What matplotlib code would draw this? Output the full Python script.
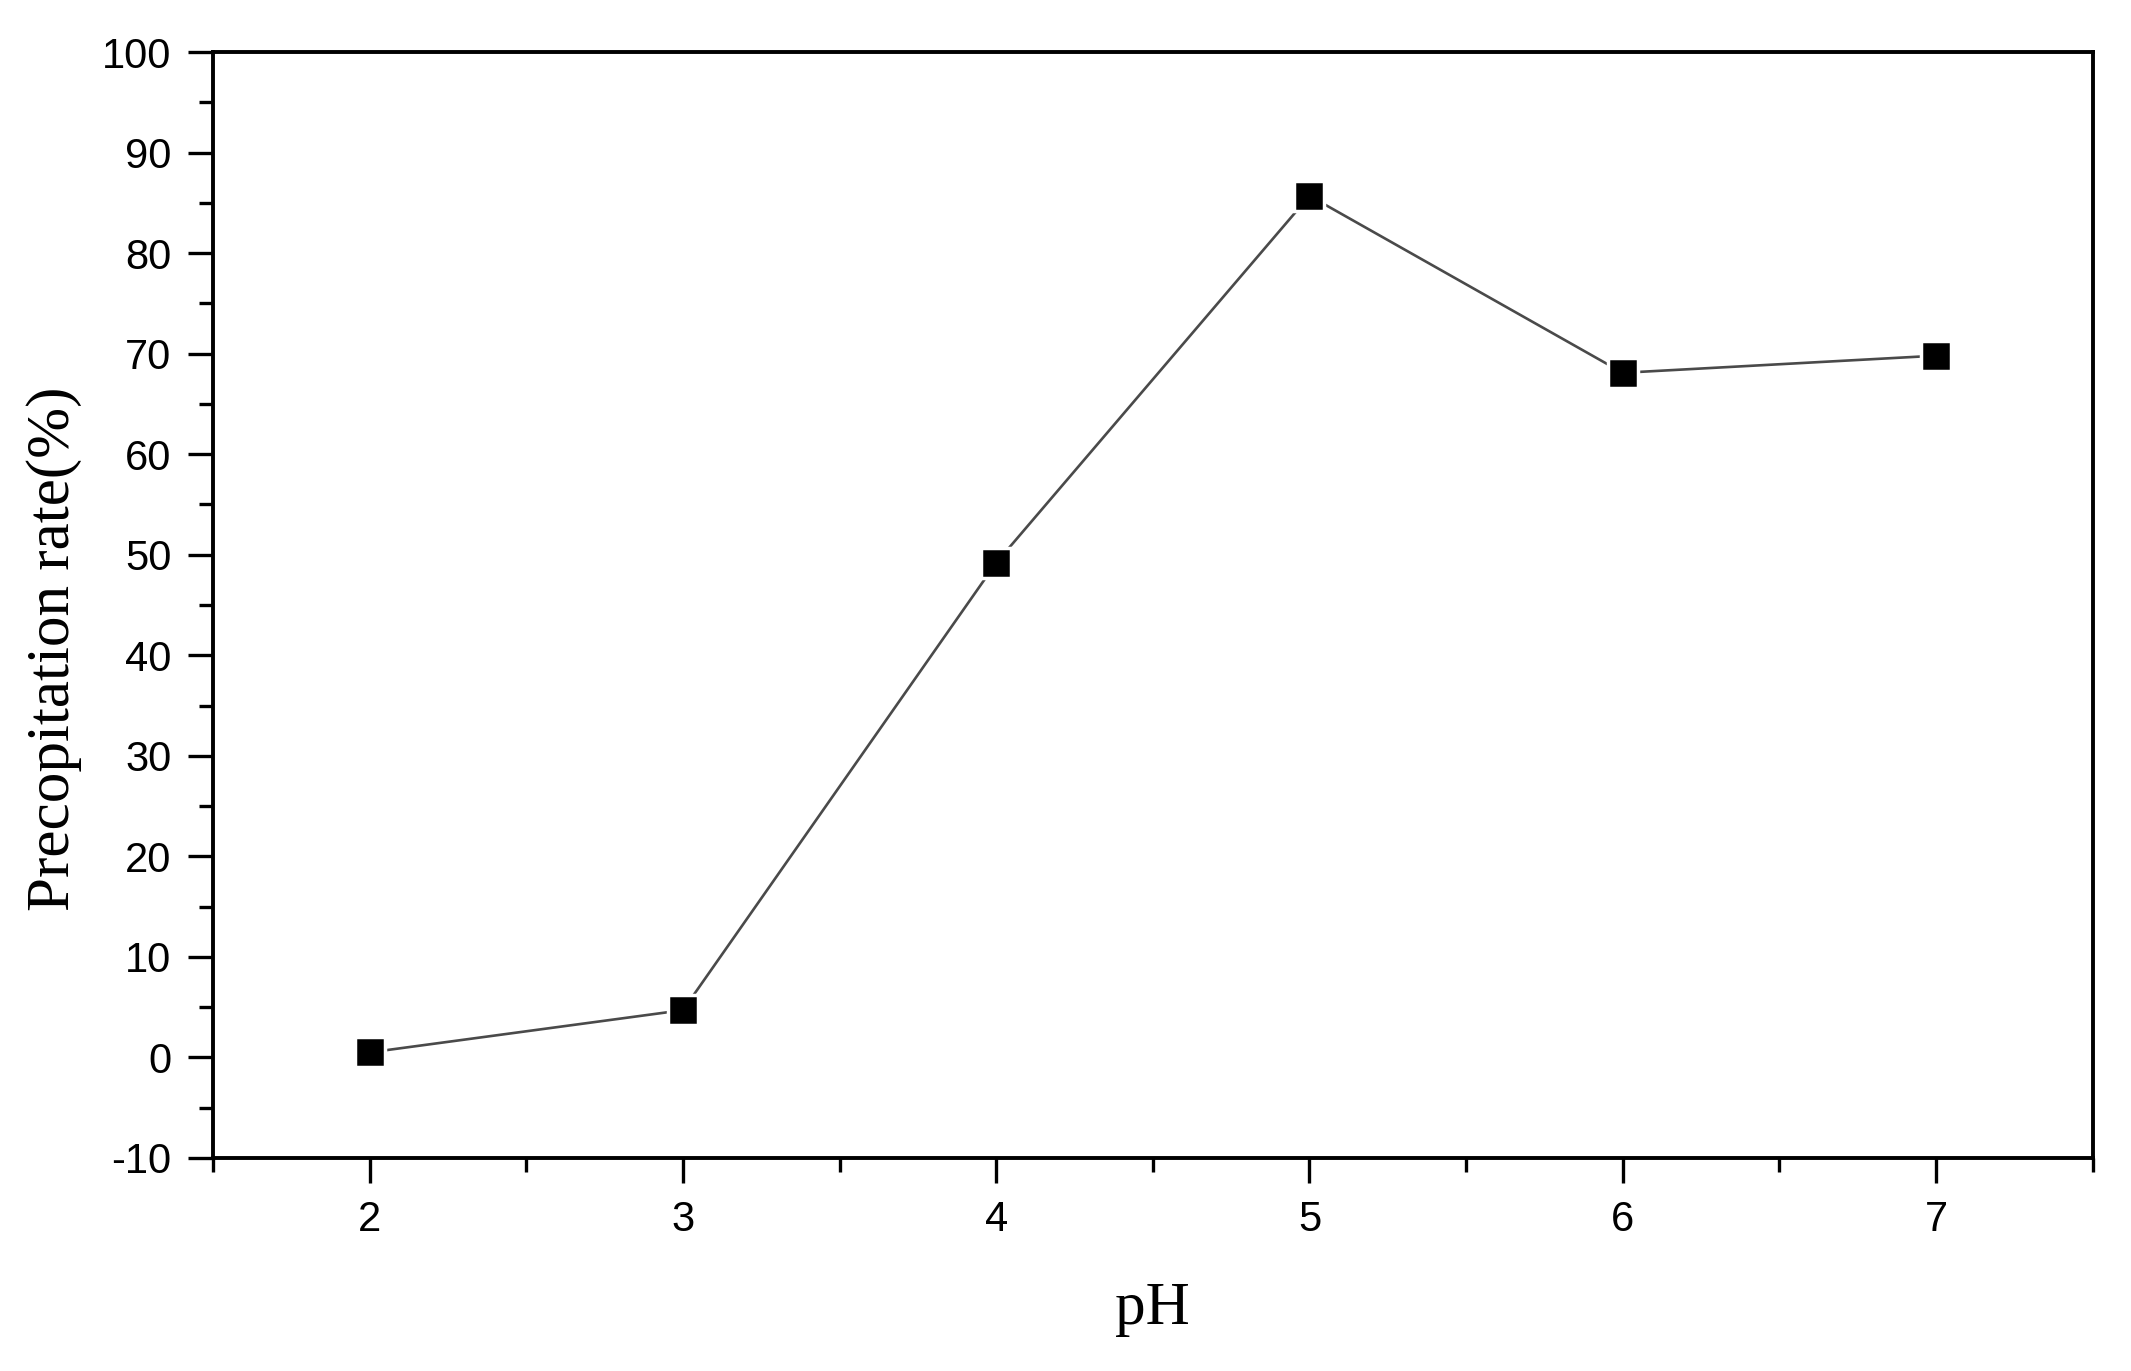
import matplotlib
matplotlib.use("Agg")
import matplotlib.pyplot as plt
from matplotlib.ticker import MultipleLocator

plt.rcParams["axes.unicode_minus"] = False

# data
ph = [2, 3, 4, 5, 6, 7]
rate = [0.5, 4.7, 49.2, 85.7, 68.1, 69.8]
y_ticks = [-10, 0, 10, 20, 30, 40, 50, 60, 70, 80, 90, 100]

fig = plt.figure(figsize=(21.31, 13.71), dpi=100)
ax = fig.add_axes([0.100, 0.1554, 0.882, 0.8066])

ax.plot(ph, rate, color="#4a4a4a", linewidth=1.9, marker="s", markersize=21,
        markerfacecolor="black", markeredgecolor="white", markeredgewidth=2.5)

ax.set_xlim(1.5, 7.5)
ax.set_ylim(-10, 100)
ax.set_xticks(ph)
ax.set_yticks(y_ticks)
ax.xaxis.set_minor_locator(MultipleLocator(0.5))
ax.yaxis.set_minor_locator(MultipleLocator(5))

for s in ax.spines.values():
    s.set_linewidth(2.8)

ax.tick_params(which="major", direction="out", length=18, width=2.4, pad=12,
               top=False, right=False)
ax.tick_params(which="minor", direction="out", length=10, width=2.4,
               top=False, right=False)
for lab in ax.get_xticklabels() + ax.get_yticklabels():
    lab.set_fontfamily("Liberation Sans")
    lab.set_fontsize(30)

ax.set_ylabel("Precopitation rate(%)", fontfamily="Liberation Serif", fontsize=44)
ax.yaxis.set_label_coords(-0.070, 0.46)
ax.set_xlabel("pH", fontfamily="Liberation Serif", fontsize=44, labelpad=30)

fig.savefig("out.png", dpi=100)
